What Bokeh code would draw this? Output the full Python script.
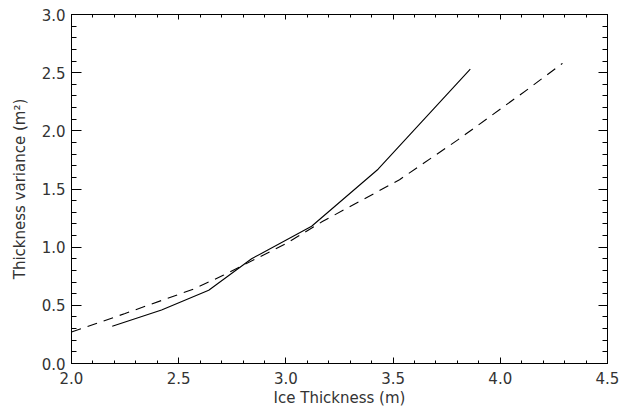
from bokeh.plotting import figure
from bokeh.models import LinearAxis, SingleIntervalTicker, Range1d, NumeralTickFormatter
from bokeh.embed import file_html
from bokeh.resources import INLINE

# Data
solid_x = [2.19, 2.42, 2.64, 2.84, 3.12, 3.43, 3.86]
solid_y = [0.32, 0.46, 0.63, 0.90, 1.18, 1.67, 2.53]

dash_x = [2.00, 2.25, 2.57, 2.71, 3.00, 3.17, 3.53, 3.80, 4.13, 4.29]
dash_y = [0.27, 0.43, 0.64, 0.76, 1.03, 1.22, 1.58, 1.92, 2.36, 2.58]

x_label = "Ice Thickness (m)"
y_label = "Thickness variance (m²)"

FONT = "DejaVu Sans"

p = figure(width=620, height=410, output_backend="svg", toolbar_location=None,
           x_range=Range1d(2.0, 4.5), y_range=Range1d(0.0, 3.0),
           min_border_left=71, min_border_right=13, min_border_top=14,
           min_border_bottom=47, x_axis_location=None, y_axis_location=None)
p.grid.visible = False
p.outline_line_color = "black"
p.outline_line_width = 1
p.background_fill_color = "white"
p.border_fill_color = "white"

def style(ax, major_in, minor_in, labels=True):
    ax.major_tick_in = major_in
    ax.major_tick_out = 0
    ax.minor_tick_in = minor_in
    ax.minor_tick_out = 0
    ax.axis_line_color = "black"
    ax.major_tick_line_color = "black"
    ax.minor_tick_line_color = "black"
    if labels:
        ax.major_label_text_font = FONT
        ax.major_label_text_font_size = "15px"
        ax.major_label_text_color = "#333333"
        ax.axis_label_text_font = FONT
        ax.axis_label_text_font_size = "15px"
        ax.axis_label_text_font_style = "normal"
        ax.axis_label_text_color = "#333333"
        ax.formatter = NumeralTickFormatter(format="0.0")
    else:
        ax.major_label_text_font_size = "0px"
        ax.major_label_text_alpha = 0

bx = LinearAxis(ticker=SingleIntervalTicker(interval=0.5, num_minor_ticks=5),
                axis_label=x_label)
style(bx, 6, 3)
bx.major_label_standoff = 8
bx.axis_label_standoff = 2
p.add_layout(bx, "below")

ly = LinearAxis(ticker=SingleIntervalTicker(interval=0.5, num_minor_ticks=5),
                axis_label=y_label)
style(ly, 10, 5)
ly.major_label_standoff = 6
ly.axis_label_standoff = 10
p.add_layout(ly, "left")

tx = LinearAxis(ticker=SingleIntervalTicker(interval=0.5, num_minor_ticks=5))
style(tx, 5, 3, labels=False)
p.add_layout(tx, "above")

ry = LinearAxis(ticker=SingleIntervalTicker(interval=0.5, num_minor_ticks=5))
style(ry, 9, 5, labels=False)
p.add_layout(ry, "right")

p.line(solid_x, solid_y, line_color="black", line_width=1.1)
p.line(dash_x, dash_y, line_color="black", line_width=1.1, line_dash="10 7")

open("out.html", "w").write(file_html(p, INLINE))
